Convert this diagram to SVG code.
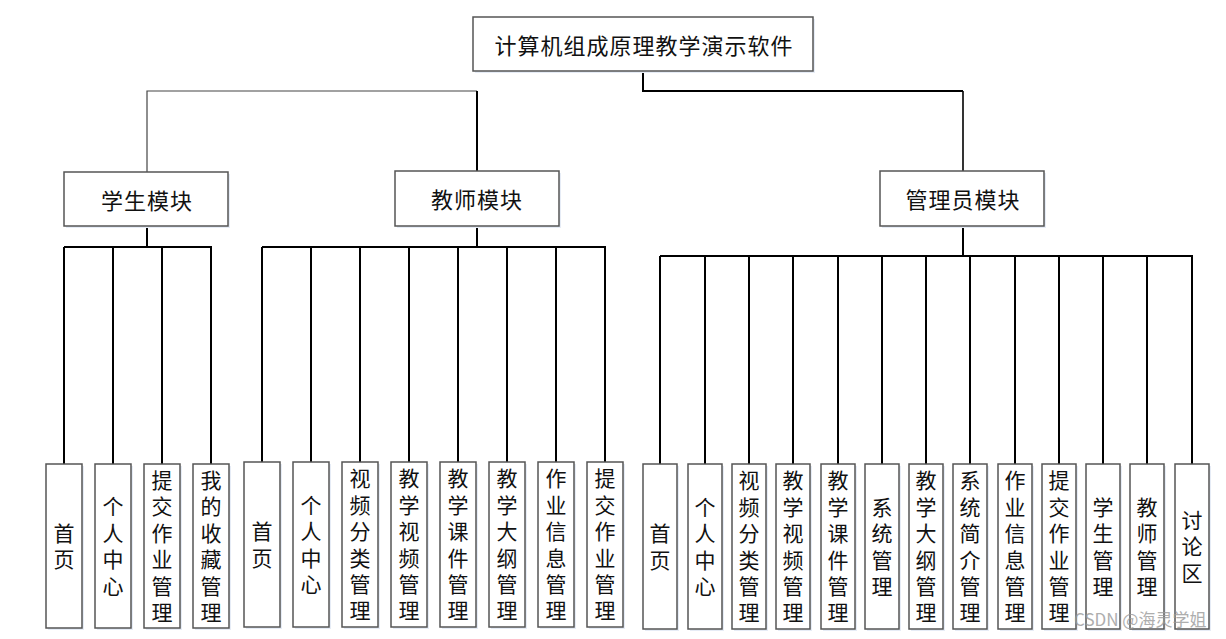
<svg xmlns="http://www.w3.org/2000/svg" width="1226" height="639" viewBox="0 0 1226 639">
<style>
.box{fill:#fff;stroke:#555;stroke-width:1.5}
.sh{fill:#e6ecf6}
.t{font-family:"Noto Sans CJK SC","Liberation Sans",sans-serif;font-size:22px;fill:#111;text-anchor:middle;dominant-baseline:central;letter-spacing:1px}
.v{font-family:"Noto Sans CJK SC","Liberation Sans",sans-serif;font-size:21px;fill:#111;text-anchor:middle;writing-mode:vertical-rl;letter-spacing:5.4px}
.c{fill:none;stroke:#000;stroke-width:2}
.thin{fill:none;stroke:#444;stroke-width:1.2}
.wm{font-family:"Noto Sans CJK SC","Liberation Sans",sans-serif;font-size:17px;fill:#9a9a9a;opacity:0.8}
</style>
<rect width="1226" height="639" fill="#fff"/>
<g id="connectors">
<path class="c" d="M643 71V91H963"/>
<path class="thin" d="M477 91H147V172"/>
<path class="c" d="M477 91V171"/>
<path class="c" d="M963 91V171" style="stroke-width:1.6"/>
<path class="c" d="M147 226V247M64 247H212M64 247V464M113 247V464M162 247V464M211 247V464"/>
<path class="c" d="M477 226V247M262 247H606M262 247V462M311 247V462M360 247V462M409 247V462M458 247V462M507 247V462M556 247V462M605 247V462"/>
<path class="c" d="M963 226V256M660 256H1193M660 256V464M705 256V464M749 256V464M793 256V464M838 256V464M882 256V464M926 256V464M970 256V464M1015 256V464M1059 256V464M1103 256V464M1147 256V464M1192 256V464"/>
</g>
<g id="root"><rect class="sh" x="475" y="19" width="340" height="54"/><rect class="box" x="473" y="17" width="340" height="54"/><text class="t" x="644" y="44">计算机组成原理教学演示软件</text></g>
<g id="student"><rect class="sh" x="66" y="174" width="164" height="54"/><rect class="box" x="64" y="172" width="164" height="54"/><text class="t" x="147" y="199">学生模块</text></g>
<g id="teacher"><rect class="sh" x="397" y="173" width="164" height="55"/><rect class="box" x="395" y="171" width="164" height="55"/><text class="t" x="477" y="198">教师模块</text></g>
<g id="admin"><rect class="sh" x="882" y="173" width="164" height="55"/><rect class="box" x="880" y="171" width="164" height="55"/><text class="t" x="963" y="198">管理员模块</text></g>

<g id="s1"><rect class="sh" x="48" y="466" width="36" height="164"/><rect class="box" x="46" y="464" width="36" height="164"/><text class="v" x="64" y="548.7">首页</text></g>
<g id="s2"><rect class="sh" x="97" y="466" width="36" height="164"/><rect class="box" x="95" y="464" width="36" height="164"/><text class="v" x="113" y="548.7">个人中心</text></g>
<g id="s3"><rect class="sh" x="146" y="466" width="36" height="164"/><rect class="box" x="144" y="464" width="36" height="164"/><text class="v" x="162" y="548.7">提交作业管理</text></g>
<g id="s4"><rect class="sh" x="195" y="466" width="36" height="164"/><rect class="box" x="193" y="464" width="36" height="164"/><text class="v" x="211" y="548.7">我的收藏管理</text></g>

<g id="t1"><rect class="sh" x="246" y="464" width="36" height="165"/><rect class="box" x="244" y="462" width="36" height="165"/><text class="v" x="262" y="547.2">首页</text></g>
<g id="t2"><rect class="sh" x="295" y="464" width="36" height="165"/><rect class="box" x="293" y="462" width="36" height="165"/><text class="v" x="311" y="547.2">个人中心</text></g>
<g id="t3"><rect class="sh" x="344" y="464" width="36" height="165"/><rect class="box" x="342" y="462" width="36" height="165"/><text class="v" x="360" y="547.2">视频分类管理</text></g>
<g id="t4"><rect class="sh" x="393" y="464" width="36" height="165"/><rect class="box" x="391" y="462" width="36" height="165"/><text class="v" x="409" y="547.2">教学视频管理</text></g>
<g id="t5"><rect class="sh" x="442" y="464" width="36" height="165"/><rect class="box" x="440" y="462" width="36" height="165"/><text class="v" x="458" y="547.2">教学课件管理</text></g>
<g id="t6"><rect class="sh" x="491" y="464" width="36" height="165"/><rect class="box" x="489" y="462" width="36" height="165"/><text class="v" x="507" y="547.2">教学大纲管理</text></g>
<g id="t7"><rect class="sh" x="540" y="464" width="36" height="165"/><rect class="box" x="538" y="462" width="36" height="165"/><text class="v" x="556" y="547.2">作业信息管理</text></g>
<g id="t8"><rect class="sh" x="589" y="464" width="36" height="165"/><rect class="box" x="587" y="462" width="36" height="165"/><text class="v" x="605" y="547.2">提交作业管理</text></g>

<g id="a1"><rect class="sh" x="645" y="466" width="34" height="165"/><rect class="box" x="643" y="464" width="34" height="165"/><text class="v" x="660" y="549.2">首页</text></g>
<g id="a2"><rect class="sh" x="690" y="466" width="34" height="165"/><rect class="box" x="688" y="464" width="34" height="165"/><text class="v" x="705" y="549.2">个人中心</text></g>
<g id="a3"><rect class="sh" x="734" y="466" width="34" height="165"/><rect class="box" x="732" y="464" width="34" height="165"/><text class="v" x="749" y="549.2">视频分类管理</text></g>
<g id="a4"><rect class="sh" x="778" y="466" width="34" height="165"/><rect class="box" x="776" y="464" width="34" height="165"/><text class="v" x="793" y="549.2">教学视频管理</text></g>
<g id="a5"><rect class="sh" x="823" y="466" width="34" height="165"/><rect class="box" x="821" y="464" width="34" height="165"/><text class="v" x="838" y="549.2">教学课件管理</text></g>
<g id="a6"><rect class="sh" x="867" y="466" width="34" height="165"/><rect class="box" x="865" y="464" width="34" height="165"/><text class="v" x="882" y="549.2">系统管理</text></g>
<g id="a7"><rect class="sh" x="911" y="466" width="34" height="165"/><rect class="box" x="909" y="464" width="34" height="165"/><text class="v" x="926" y="549.2">教学大纲管理</text></g>
<g id="a8"><rect class="sh" x="955" y="466" width="34" height="165"/><rect class="box" x="953" y="464" width="34" height="165"/><text class="v" x="970" y="549.2">系统简介管理</text></g>
<g id="a9"><rect class="sh" x="1000" y="466" width="34" height="165"/><rect class="box" x="998" y="464" width="34" height="165"/><text class="v" x="1015" y="549.2">作业信息管理</text></g>
<g id="a10"><rect class="sh" x="1044" y="466" width="34" height="165"/><rect class="box" x="1042" y="464" width="34" height="165"/><text class="v" x="1059" y="549.2">提交作业管理</text></g>
<g id="a11"><rect class="sh" x="1088" y="466" width="34" height="165"/><rect class="box" x="1086" y="464" width="34" height="165"/><text class="v" x="1103" y="549.2">学生管理</text></g>
<g id="a12"><rect class="sh" x="1132" y="466" width="34" height="165"/><rect class="box" x="1130" y="464" width="34" height="165"/><text class="v" x="1147" y="549.2">教师管理</text></g>
<g id="a13"><rect class="sh" x="1177" y="466" width="34" height="165"/><rect class="box" x="1175" y="464" width="34" height="165"/><text class="v" x="1192" y="549.2">讨论区</text></g>
<text class="wm" x="1074" y="626">CSDN @海灵学姐</text>
</svg>
